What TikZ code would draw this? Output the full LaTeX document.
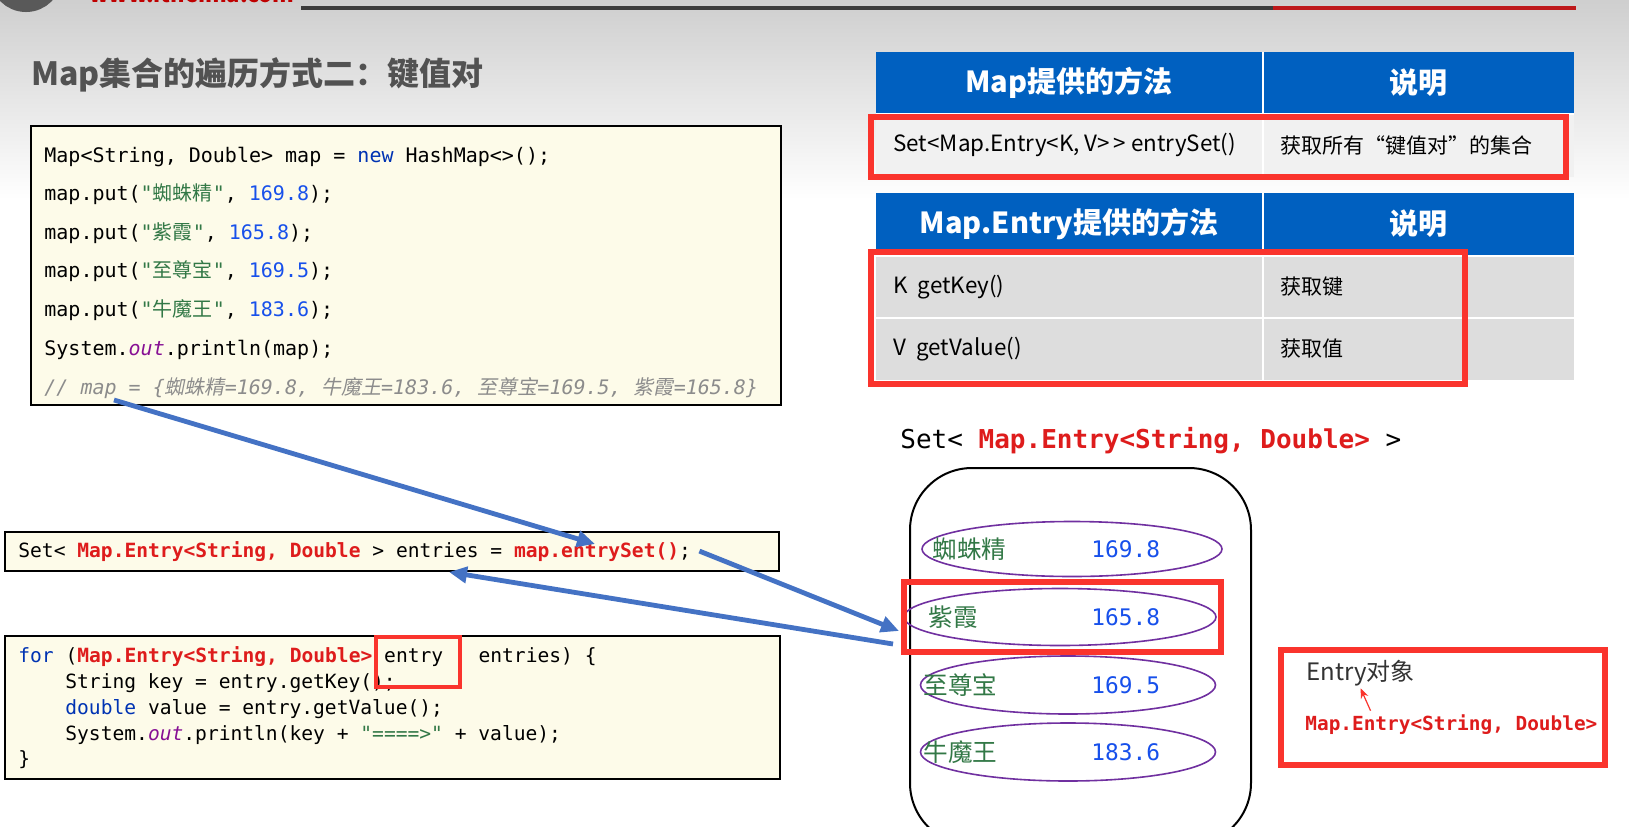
\documentclass[tikz,border=0pt]{standalone}
\usepackage{fontspec}
\setmainfont{Noto Sans CJK SC}
\setmonofont{DejaVu Sans Mono}
\newfontfamily\cjk{Noto Sans CJK SC}
\newfontfamily\cjkit[FakeSlant=0.2]{Noto Sans CJK SC}
\usetikzlibrary{arrows.meta,positioning,shapes.geometric}

\definecolor{hdrblue}{RGB}{0,96,192}
\definecolor{rowlight}{RGB}{241,241,241}
\definecolor{rowgray}{RGB}{221,221,221}
\definecolor{codebg}{RGB}{253,251,233}
\definecolor{kwblue}{RGB}{0,51,179}
\definecolor{numblue}{RGB}{23,80,235}
\definecolor{strgreen}{RGB}{50,120,70}
\definecolor{fieldpurple}{RGB}{135,16,148}
\definecolor{cmtgray}{RGB}{140,140,140}
\definecolor{hlred}{RGB}{250,52,45}
\definecolor{typered}{RGB}{222,28,28}
\definecolor{arrowblue}{RGB}{68,114,196}
\definecolor{ovalpurple}{RGB}{112,48,160}
\definecolor{titlegray}{RGB}{82,82,82}
\definecolor{bargray}{RGB}{60,60,60}
\definecolor{barred}{RGB}{190,24,26}

\newcommand\kwd[1]{\textcolor{kwblue}{#1}}
\newcommand\codenum[1]{\textcolor{numblue}{#1}}
\newcommand\strg[1]{\textcolor{strgreen}{#1}}
\newcommand\fld[1]{\textcolor{fieldpurple}{\itshape #1}}
\newcommand\typ[1]{\textcolor{typered}{\bfseries #1}}

\tikzset{
  codebox/.style={draw=black, line width=0.75pt, fill=codebg},
  codeline/.style={anchor=base west, inner sep=0pt, font=\ttfamily\fontsize{10}{12}\selectfont},
  codeshort/.style={anchor=base west, inner sep=0pt, font=\ttfamily\fontsize{9.8}{12}\selectfont},
  hdrtext/.style={text=white, font=\cjk\bfseries\fontsize{14.5}{16}\selectfont},
  celltext/.style={anchor=west, inner sep=0pt, font=\cjk\fontsize{10.5}{12}\selectfont},
  methodtext/.style={celltext, font=\cjk\fontsize{11.2}{13}\selectfont},
  hlbox/.style={draw=hlred, line width=2.6pt},
  bluearrow/.style={draw=arrowblue, line width=2.4pt, -{Triangle[length=9pt,width=8pt]}},
  oval/.style={ellipse, draw=ovalpurple, line width=0.8pt, inner sep=0pt},
  entryname/.style={anchor=west, inner sep=0pt, text=strgreen, font=\cjk\fontsize{12.3}{14}\selectfont},
  entryval/.style={anchor=west, inner sep=0pt, text=numblue, font=\ttfamily\fontsize{11.4}{13}\selectfont}
}

\begin{document}
\begin{tikzpicture}[x=0.5pt,y=-0.5pt]
  \useasboundingbox (0,0) rectangle (1629,826);
  \clip (0,0) rectangle (1629,826);
  \fill[white] (0,0) rectangle (1629,826);
  \shade[top color=gray!38, bottom color=white] (0,0) rectangle (1629,200);

  % slide header
  \draw[line width=2pt, bargray] (301,8) -- (1273,8);
  \draw[line width=2pt, barred] (1273,8) -- (1576,8);
  \draw[line width=6pt, gray!70!black] (26,-24) circle (30);
  \node[anchor=base west, text=red!75!black, font=\bfseries\fontsize{11}{12}\selectfont] (logo) at (82,2) {www.itheima.com};
  \node[anchor=west, inner sep=0pt, text=titlegray, font=\cjk\bfseries\fontsize{16}{18}\selectfont] (title) at (31,75) {Map集合的遍历方式二：键值对};

  % code: building the map
  \draw[codebox] (31,126) rectangle (781,405);
  \node[codeline] (c1) at (44,162) {Map<String, Double> map = \kwd{new} HashMap<>();};
  \node[codeline] (c2) at (44,200.5) {map.put(\strg{"{\cjk 蜘蛛精}"}, \codenum{169.8});};
  \node[codeline] (c3) at (44,239) {map.put(\strg{"{\cjk 紫霞}"}, \codenum{165.8});};
  \node[codeline] (c4) at (44,277.5) {map.put(\strg{"{\cjk 至尊宝}"}, \codenum{169.5});};
  \node[codeline] (c5) at (44,316) {map.put(\strg{"{\cjk 牛魔王}"}, \codenum{183.6});};
  \node[codeline] (c6) at (44,355) {System.\fld{out}.println(map);};
  \node[codeline, text=cmtgray] (c7) at (44,394) {\itshape // map = \{{\cjkit 蜘蛛精}=169.8, {\cjkit 牛魔王}=183.6, {\cjkit 至尊宝}=169.5, {\cjkit 紫霞}=165.8\}};
  \coordinate (cmtmap) at (114,400);

  % code: entrySet
  \draw[codebox] (5,532) rectangle (779,571);
  \node[codeshort] (entline) at (18,557) {Set< \typ{Map.Entry<String, Double} > entries = \typ{map.entrySet()};};
  \coordinate (estip) at (595,544);
  \coordinate (enttip) at (449,572);

  % code: for loop
  \draw[codebox] (5,636) rectangle (780,779);
  \node[codeshort] (f1) at (18,662) {\kwd{for} (\typ{Map.Entry<String, Double>} entry\ \ \ entries) \{};
  \node[codeshort] (f2) at (65,688) {String key = entry.getKey();};
  \node[codeshort] (f3) at (65,714) {\kwd{double} value = entry.getValue();};
  \node[codeshort] (f4) at (65,740) {System.\fld{out}.println(key + \strg{"====>"} + value);};
  \node[codeshort] (f5) at (18,765) {\}};
  \draw[hlbox, line width=2.2pt] (376,637) rectangle (460,687);

  % table: Map methods
  \fill[hdrblue] (876,52) rectangle (1574,114);
  \fill[rowlight] (876,114) rectangle (1574,177);
  \draw[white, line width=0.8pt] (1263,52) -- (1263,177);
  \draw[white, line width=0.8pt] (876,114) -- (1574,114);
  \node[hdrtext] (h1a) at (1069,83) {Map提供的方法};
  \node[hdrtext] (h1b) at (1418,83) {说明};
  \node[methodtext] (r1a) at (893,145) {Set<Map.Entry<K, V>\,> entrySet()};
  \node[celltext] (r1b) at (1280,145) {获取所有“键值对”的集合};
  \draw[hlbox] (871,117) rectangle (1566,177);

  % table: Map.Entry methods
  \fill[hdrblue] (876,193) rectangle (1574,256);
  \fill[rowgray] (876,256) rectangle (1574,380);
  \draw[white, line width=0.8pt] (1263,193) -- (1263,380);
  \draw[white, line width=0.8pt] (876,256) -- (1574,256);
  \draw[white, line width=0.8pt] (876,318) -- (1574,318);
  \node[hdrtext] (h2a) at (1069,224) {Map.Entry提供的方法};
  \node[hdrtext] (h2b) at (1418,224) {说明};
  \node[methodtext] (r2a) at (893,287) {K\ \ getKey()};
  \node[celltext] (r2b) at (1280,287) {获取键};
  \node[methodtext] (r3a) at (893,349) {V\ \ getValue()};
  \node[celltext] (r3b) at (1280,349) {获取值};
  \draw[hlbox] (871,252) rectangle (1465,384);

  % the set of entries
  \node[anchor=base west, inner sep=0pt, font=\ttfamily\fontsize{13}{15}\selectfont] (setlbl) at (900,448) {Set< \typ{Map.Entry<String, Double>} >};
  \draw[line width=1pt, rounded corners=31pt] (910,468) rectangle (1251,845);
  \node[oval, minimum width=150pt, minimum height=27.5pt] (e1) at (1072,549) {};
  \node[oval, minimum width=156pt, minimum height=28.5pt] (e2) at (1060,617) {};
  \node[oval, minimum width=147.5pt, minimum height=29pt] (e3) at (1068,685) {};
  \node[oval, minimum width=147.5pt, minimum height=29pt] (e4) at (1068,752) {};
  \node[entryname] (n1) at (932,549) {蜘蛛精};
  \node[entryname] (n2) at (928,617) {紫霞};
  \node[entryname] (n3) at (923,685) {至尊宝};
  \node[entryname] (n4) at (923,752) {牛魔王};
  \node[entryval] (v1) at (1091,549) {169.8};
  \node[entryval] (v2) at (1091,617) {165.8};
  \node[entryval] (v3) at (1091,685) {169.5};
  \node[entryval] (v4) at (1091,752) {183.6};
  \draw[hlbox] (904,582) rectangle (1221,652);
  \coordinate (e2tip) at (899,631);
  \coordinate (e2tail) at (893,644);

  % one entry object
  \draw[hlbox, line width=3pt] (1281,650) rectangle (1605,765);
  \node[anchor=west, inner sep=0pt, text=black!80, font=\cjk\fontsize{12}{14}\selectfont] (eobj) at (1306,673) {Entry对象};
  \node[anchor=west, inner sep=0pt, text=typered, font=\ttfamily\bfseries\fontsize{9.7}{11}\selectfont] (etype) at (1305,725) {Map.Entry<String, Double>};
  \draw[hlred, line width=0.6pt, -{Stealth[length=5pt,width=4pt]}] ([xshift=5pt,yshift=2pt]eobj.south |- etype.north) -- ([yshift=-1pt]eobj.south);

  % arrows
  \draw[bluearrow] (cmtmap) -- (estip);
  \draw[bluearrow] ([xshift=4pt]entline.east) -- (e2tip);
  \draw[bluearrow] (e2tail) -- (enttip);
\end{tikzpicture}
\end{document}
